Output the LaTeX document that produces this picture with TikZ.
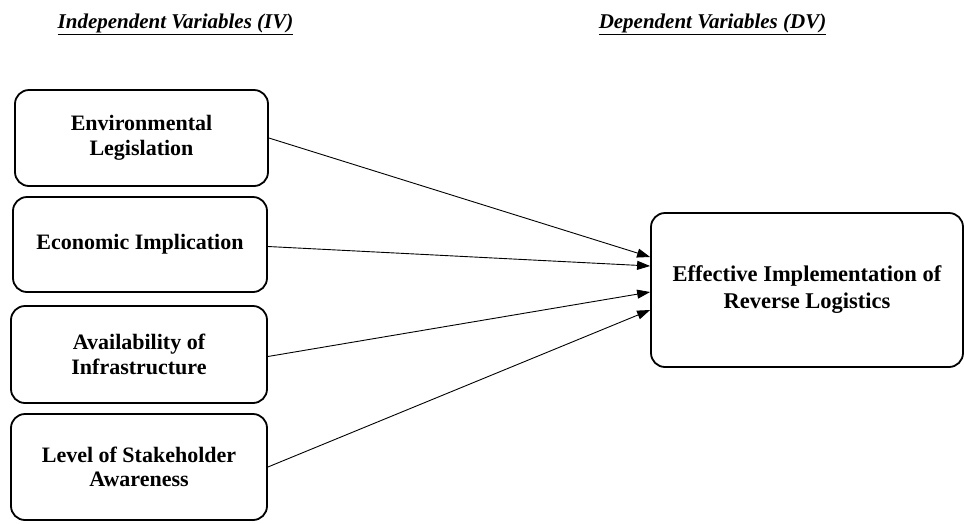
\documentclass[tikz,border=0pt]{standalone}
\usepackage{fontspec}
\setmainfont{Liberation Serif}
\usetikzlibrary{arrows.meta}
\tikzset{
  ivbox/.style={draw, line width=1.8pt, rounded corners=14pt, align=center, inner sep=0pt,
    font=\fontsize{22}{24.5}\selectfont\bfseries},
  heading/.style={font=\fontsize{21}{24}\selectfont\bfseries\itshape, anchor=base},
  link/.style={line width=0.9pt, -{Triangle[length=13pt,width=9pt]}}
}
\begin{document}
\begin{tikzpicture}[x=1pt,y=-1pt]
\useasboundingbox (0,0) rectangle (964,523);
\node[heading] (iv) at (175.5,28) {\underline{Independent Variables (IV)}};
\node[heading] (dv) at (712.5,28) {\underline{Dependent Variables (DV)}};
\node[ivbox, minimum width=253pt, minimum height=96pt] (b1) at (141.5,138) {Environmental\\Legislation};
\node[ivbox, minimum width=254pt, minimum height=95pt] (b2) at (140,244.5) {Economic Implication};
\node[ivbox, minimum width=256pt, minimum height=97pt] (b3) at (139,354.5) {Availability of\\Infrastructure};
\node[ivbox, minimum width=256pt, minimum height=106pt] (b4) at (139,467) {Level of Stakeholder\\Awareness};
\node[ivbox, minimum width=312pt, minimum height=154pt, font=\fontsize{22.5}{27}\selectfont\bfseries] (out) at (807,290) {Effective Implementation of\\Reverse Logistics};
\draw[link] (b1.east) -- ([yshift=33pt]out.west);
\draw[link] ([yshift=-2pt]b2.east) -- ([yshift=24pt]out.west);
\draw[link] ([yshift=-2pt]b3.east) -- ([yshift=-2pt]out.west);
\draw[link] (b4.east) -- ([yshift=-20pt]out.west);
\end{tikzpicture}
\end{document}
